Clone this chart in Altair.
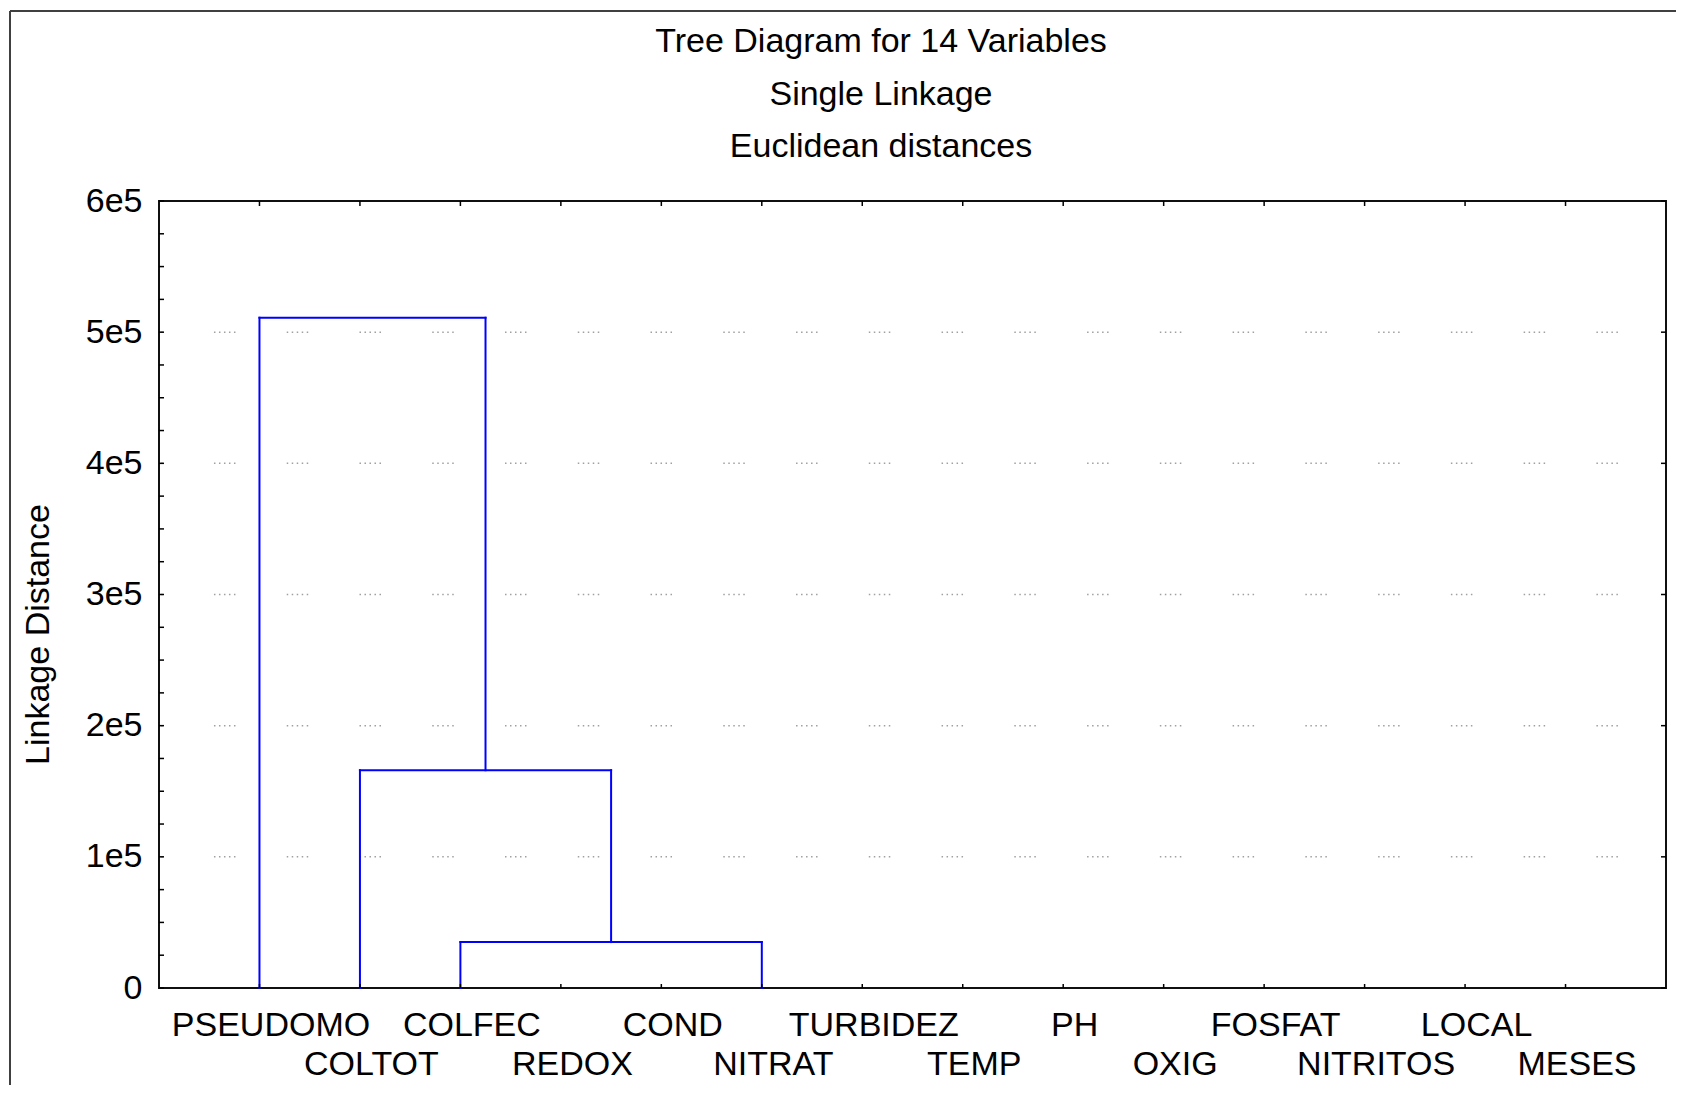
import altair as alt
import pandas as pd

# ---------------- data ----------------
leaf_names = ["PSEUDOMO", "COLTOT", "COLFEC", "REDOX", "COND", "NITRAT", "TURBIDEZ",
              "TEMP", "PH", "OXIG", "FOSFAT", "NITRITOS", "LOCAL", "MESES"]
# visible joins of the tree (the remaining leaves join at ~0 distance)
merge_left = ["COLFEC", "COLTOT", "PSEUDOMO"]
merge_right = ["NITRAT", "m0", "m1"]
merge_height = [35000, 166000, 511000]

y_tick_values = [0, 100000, 200000, 300000, 400000, 500000, 600000]
y_tick_labels = ["0", "1e5", "2e5", "3e5", "4e5", "5e5", "6e5"]
y_minor_ticks = [0, 25000, 50000, 75000, 100000, 125000, 150000, 175000, 200000,
                 225000, 250000, 275000, 300000, 325000, 350000, 375000, 400000,
                 425000, 450000, 475000, 500000, 525000, 550000, 575000, 600000]
grid_values = [100000, 200000, 300000, 400000, 500000]

title_lines = ["Tree Diagram for 14 Variables", "Single Linkage", "Euclidean distances"]
y_title = "Linkage Distance"

# ---------------- build segments ----------------
pos = {n: i + 1 for i, n in enumerate(leaf_names)}
hgt = {n: 0 for n in leaf_names}
segs = []
for i, (l, r, h) in enumerate(zip(merge_left, merge_right, merge_height)):
    xl, xr = pos[l], pos[r]
    segs.append(dict(x=xl, x2=xl, y=hgt[l], y2=h))
    segs.append(dict(x=xr, x2=xr, y=hgt[r], y2=h))
    segs.append(dict(x=xl, x2=xr, y=h, y2=h))
    pos["m%d" % i] = (xl + xr) / 2
    hgt["m%d" % i] = h
seg_df = pd.DataFrame(segs)

leaf_df = pd.DataFrame({"x": list(range(1, len(leaf_names) + 1))})
minor_df = pd.DataFrame({"y": y_minor_ticks})
major_df = pd.DataFrame({"y": y_tick_values})
grid_df = pd.DataFrame({"y": grid_values})
one_df = pd.DataFrame({"a": [0]})

W, H = 1507, 787
FONT = "Liberation Sans"
FS = 34

names_js = "[" + ",".join("'%s'" % n for n in leaf_names) + "]"
ylab_js = "[" + ",".join("'%s'" % s for s in y_tick_labels) + "]"

x_axis = alt.Axis(
    values=list(range(1, len(leaf_names) + 1)),
    labelExpr=f"datum.value % 2 == 1 ? [{names_js}[datum.value-1]] : ['', {names_js}[datum.value-1]]",
    title=None, ticks=False, tickSize=0, domain=False, grid=False,
    labelFont=FONT, labelFontSize=FS, labelColor="black",
    labelPadding=20, labelBaseline="top", labelLineHeight=39,
    labelAlign="center", labelOffset=11, labelOverlap=False, labelFlush=False,
    labelLimit=600,
)
y_axis = alt.Axis(
    values=y_tick_values,
    labelExpr=f"{ylab_js}[round(datum.value/100000)]",
    title=y_title, titleFont=FONT, titleFontSize=FS, titleFontWeight="normal",
    titleColor="black", titleAngle=270, titleX=-121, titleY=433,
    titleAlign="center", titleBaseline="middle", titleLimit=1000,
    ticks=False, tickSize=0, domain=False, grid=False,
    labelFont=FONT, labelFontSize=FS, labelColor="black",
    labelPadding=17, labelBaseline="middle", labelAlign="right",
    labelOverlap=False, labelFlush=False, labelLimit=600,
)
xsc = alt.Scale(domain=[0, 15], nice=False, zero=False)
ysc = alt.Scale(domain=[0, 600000], nice=False, zero=False)

def X(f="x"):
    return alt.X(f + ":Q", scale=xsc, axis=x_axis)

def Y(f="y"):
    return alt.Y(f + ":Q", scale=ysc, axis=y_axis)

dash = [1.5, 3.5, 1.5, 3.5, 1.5, 3.5, 1.5, 3.5, 1.5, 51.26]

grid = alt.Chart(grid_df).mark_rule(
    color="#a0a0a0", strokeWidth=1.5, strokeDash=dash, strokeDashOffset=17.8
).encode(y=Y(), x=alt.value(0), x2=alt.value(W))

tree = alt.Chart(seg_df).mark_rule(
    color="#0000ff", strokeWidth=2, strokeCap="square"
).encode(x=X(), x2="x2:Q", y=Y(), y2="y2:Q")

left_ticks = alt.Chart(minor_df).mark_rule(color="black", strokeWidth=1.5).encode(
    y=Y(), x=alt.value(0), x2=alt.value(5))
right_ticks = alt.Chart(major_df).mark_rule(color="black", strokeWidth=1.5).encode(
    y=Y(), x=alt.value(W - 5), x2=alt.value(W))
top_ticks = alt.Chart(leaf_df).mark_rule(color="black", strokeWidth=1.5).encode(
    x=X(), y=alt.value(0), y2=alt.value(5))
bottom_ticks = alt.Chart(leaf_df).mark_rule(color="black", strokeWidth=1.5).encode(
    x=X(), y=alt.value(H - 4), y2=alt.value(H))

border_left = alt.Chart(one_df).mark_rule(color="#404040", strokeWidth=2).encode(
    x=alt.value(-149), y=alt.value(-190), y2=alt.value(H + 120))
border_top = alt.Chart(one_df).mark_rule(color="#404040", strokeWidth=2).encode(
    x=alt.value(-149), x2=alt.value(W + 30), y=alt.value(-190))

title = alt.Chart(one_df).mark_text(
    text=title_lines, font=FONT, fontSize=FS, lineHeight=52.5,
    align="center", baseline="alphabetic", color="black"
).encode(x=alt.value(722), y=alt.value(-149))

chart = alt.layer(
    grid, tree, left_ticks, right_ticks, top_ticks, bottom_ticks,
    border_left, border_top, title
).properties(
    width=W, height=H,
    autosize="none",
    padding={"left": 151, "top": 193, "right": 10, "bottom": 97},
    background="white",
).configure_view(
    stroke="#101010", strokeWidth=2, fill="white"
)

chart.save("out.html", embed_options={"renderer": "svg", "actions": False})
